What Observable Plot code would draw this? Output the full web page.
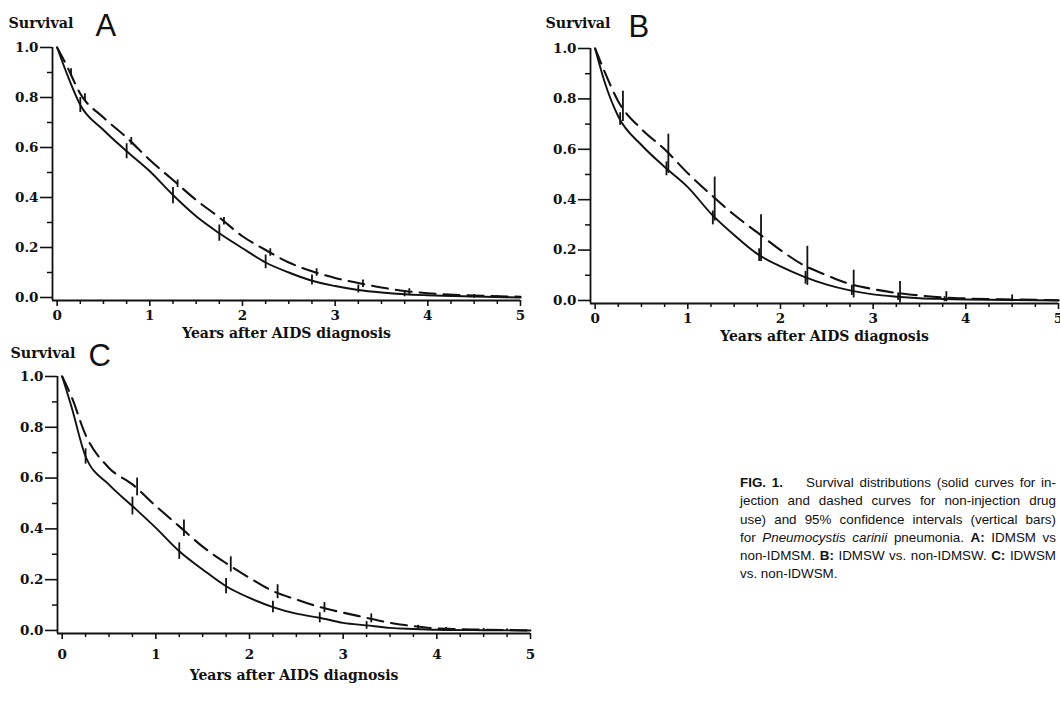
<!DOCTYPE html>
<html>
<head>
<meta charset="utf-8">
<script src="https://cdn.jsdelivr.net/npm/d3@7"></script>
<script src="https://cdn.jsdelivr.net/npm/@observablehq/plot@0.6"></script>
<style>
  html, body { margin: 0; padding: 0; background: #fff; }
  #wrap { position: relative; width: 1060px; height: 715px; overflow: hidden; background: #fff; }
  .panel { position: absolute; }
  #caption { position: absolute; left: 740px; top: 474px; width: 316px;
    font-family: "Liberation Sans", Arial, sans-serif; font-size: 13.4px; line-height: 18.3px; color: #111; }
  #caption div { text-align: justify; text-align-last: justify; white-space: nowrap; }
  #caption div.last { text-align-last: left; }
</style>
</head>
<body>
<div id="wrap">
  <div id="pA" class="panel" style="left:0px;top:0px"></div>
  <div id="pB" class="panel" style="left:530px;top:0px"></div>
  <div id="pC" class="panel" style="left:0px;top:330px"></div>
  <div id="caption">
    <div><b>FIG. 1.</b>&nbsp;&nbsp;&nbsp; Survival distributions (solid curves for in-</div>
    <div>jection and dashed curves for non-injection drug</div>
    <div>use) and 95% confidence intervals (vertical bars)</div>
    <div>for <i>Pneumocystis carinii</i> pneumonia. <b>A:</b> IDMSM vs</div>
    <div>non-IDMSM. <b>B:</b> IDMSW vs. non-IDMSW. <b>C:</b> IDWSM</div>
    <div class="last">vs. non-IDWSM.</div>
  </div>
</div>
<script>
// ---- shared time grid (years after AIDS diagnosis) ----
const times = [0, 0.1, 0.25, 0.5, 0.75, 1, 1.25, 1.5, 1.75, 2, 2.25, 2.5, 2.75, 3, 3.25, 3.5, 3.75, 4, 4.5, 5];

// ---- Panel A: IDMSM (solid) vs non-IDMSM (dashed) ----
const aSolid  = [1.0, 0.90, 0.77, 0.67, 0.585, 0.505, 0.41, 0.325, 0.257, 0.197, 0.14, 0.10, 0.067, 0.046, 0.03, 0.02, 0.013, 0.009, 0.004, 0.0];
const aDashed = [1.0, 0.93, 0.815, 0.72, 0.64, 0.55, 0.47, 0.39, 0.32, 0.245, 0.19, 0.14, 0.105, 0.078, 0.058, 0.04, 0.026, 0.017, 0.008, 0.003];
const aSolidBarT  = [0.25, 0.75, 1.25, 1.75, 2.25, 2.75, 3.25, 3.75, 4.5, 4.75];
const aSolidBarLo = [0.74, 0.555, 0.375, 0.225, 0.115, 0.05, 0.018, 0.003, -0.003, -0.004];
const aSolidBarHi = [0.80, 0.615, 0.44, 0.29, 0.17, 0.09, 0.05, 0.025, 0.012, 0.008];
const aDashBarT  = [0.15, 0.3, 0.8, 1.3, 1.8, 2.3, 2.8, 3.3, 3.8];
const aDashBarLo = [0.885, 0.785, 0.61, 0.44, 0.29, 0.165, 0.085, 0.04, 0.012];
const aDashBarHi = [0.915, 0.815, 0.64, 0.47, 0.32, 0.195, 0.115, 0.07, 0.035];

// ---- Panel B: IDMSW (solid) vs non-IDMSW (dashed) ----
const bSolid  = [1.0, 0.87, 0.73, 0.617, 0.53, 0.45, 0.345, 0.26, 0.185, 0.135, 0.095, 0.063, 0.04, 0.024, 0.015, 0.009, 0.006, 0.004, 0.002, 0.0];
const bDashed = [1.0, 0.91, 0.79, 0.68, 0.60, 0.505, 0.42, 0.34, 0.27, 0.20, 0.14, 0.10, 0.065, 0.045, 0.03, 0.02, 0.012, 0.008, 0.004, 0.001];
const bSolidBarT  = [0.27, 0.77, 1.27, 1.77, 2.27, 2.77, 3.27, 3.77];
const bSolidBarLo = [0.695, 0.495, 0.30, 0.155, 0.065, 0.02, 0.0, -0.005];
const bSolidBarHi = [0.745, 0.55, 0.355, 0.205, 0.115, 0.06, 0.03, 0.015];
const bDashBarT  = [0.3, 0.79, 1.29, 1.79, 2.29, 2.79, 3.29, 3.79, 4.5];
const bDashBarLo = [0.71, 0.505, 0.315, 0.155, 0.06, 0.01, -0.01, -0.005, -0.005];
const bDashBarHi = [0.83, 0.66, 0.49, 0.34, 0.215, 0.12, 0.075, 0.035, 0.022];

// ---- Panel C: IDWSM (solid) vs non-IDWSM (dashed) ----
const cSolid  = [1.0, 0.88, 0.685, 0.574, 0.49, 0.404, 0.312, 0.24, 0.174, 0.128, 0.092, 0.066, 0.05, 0.03, 0.02, 0.01, 0.006, 0.003, 0.001, 0.0];
const cDashed = [1.0, 0.92, 0.77, 0.64, 0.575, 0.49, 0.41, 0.33, 0.265, 0.207, 0.155, 0.122, 0.092, 0.07, 0.05, 0.03, 0.017, 0.008, 0.003, 0.0];
const cSolidBarT  = [0.25, 0.75, 1.25, 1.75, 2.25, 2.75, 3.25];
const cSolidBarLo = [0.655, 0.455, 0.28, 0.145, 0.07, 0.03, 0.005];
const cSolidBarHi = [0.715, 0.525, 0.345, 0.205, 0.115, 0.07, 0.035];
const cDashBarT  = [0.8, 1.3, 1.8, 2.3, 2.8, 3.3, 3.8, 4.1, 4.5, 4.75];
const cDashBarLo = [0.53, 0.37, 0.23, 0.125, 0.07, 0.03, 0.005, 0.0, -0.002, -0.003];
const cDashBarHi = [0.60, 0.435, 0.29, 0.18, 0.11, 0.065, 0.02, 0.012, 0.008, 0.006];

// ---- ticks and labels ----
const xMajor = [0, 1, 2, 3, 4, 5];
const xMinor = [0.25, 0.5, 0.75, 1.25, 1.5, 1.75, 2.25, 2.5, 2.75, 3.25, 3.5, 3.75, 4.25, 4.5, 4.75];
const yMajor = [0, 0.2, 0.4, 0.6, 0.8, 1.0];
const yMinor = [0.1, 0.3, 0.5, 0.7, 0.9];
const yLabel = "Survival";
const xLabel = "Years after AIDS diagnosis";

const serif = "'DejaVu Serif', serif";
const sans = "'Liberation Sans', Arial, sans-serif";

function curve(vals) { return times.map((t, i) => ({t, s: vals[i]})); }
function bars(T, lo, hi) { return T.map((t, i) => ({t, lo: lo[i], hi: hi[i]})); }

function panel(o) {
  const X0 = -0.05, Y0 = -0.012;
  return Plot.plot({
    width: o.W, height: o.H,
    marginLeft: o.axisX, marginRight: o.W - o.x5,
    marginTop: o.yTop, marginBottom: o.H - o.yBot,
    x: {domain: [X0, 5], axis: null},
    y: {domain: [Y0, 1], axis: null},
    style: {fontFamily: serif, fontSize: "13.5px", fontWeight: "bold", color: "#111", background: "transparent", overflow: "visible"},
    marks: [
      Plot.axisY({ticks: yMajor, tickSize: 12, tickPadding: 2, tickFormat: d3.format(".1f"), label: null, strokeWidth: 1.6}),
      Plot.axisY({ticks: yMinor, tickSize: 5, tickFormat: () => "", label: null, strokeWidth: 1.5}),
      Plot.axisX({ticks: xMajor, tickSize: 6, tickPadding: o.tickPad, tickFormat: d3.format("d"), label: null, strokeWidth: 1.6}),
      Plot.axisX({ticks: xMinor, tickSize: 4, tickFormat: () => "", label: null, strokeWidth: 1.5}),
      Plot.ruleX([X0], {y1: Y0, y2: 1, stroke: "#111", strokeWidth: 1.8}),
      Plot.ruleY([Y0], {x1: X0, x2: 5, stroke: "#111", strokeWidth: 1.8}),
      Plot.line(curve(o.solid), {x: "t", y: "s", curve: "monotone-x", stroke: "#111", strokeWidth: 1.9}),
      Plot.line(curve(o.dashed), {x: "t", y: "s", curve: "monotone-x", stroke: "#111", strokeWidth: 2.1, strokeDasharray: "16,8"}),
      Plot.ruleX(bars(...o.sBars), {x: "t", y1: "lo", y2: "hi", stroke: "#111", strokeWidth: 1.8}),
      Plot.ruleX(bars(...o.dBars), {x: "t", y1: "lo", y2: "hi", stroke: "#111", strokeWidth: 1.8}),
      Plot.text([yLabel], {frameAnchor: "top-left", dx: o.survDx, dy: o.survDy, textAnchor: "start", fontSize: 14.3, fontWeight: "bold", fontFamily: serif}),
      Plot.text([o.letter], {frameAnchor: "top-left", dx: o.letDx, dy: o.letDy, textAnchor: "start", fontSize: 31, fontWeight: "normal", fontFamily: sans}),
      Plot.text([xLabel], {frameAnchor: "bottom", dy: o.titleDy, fontSize: 14, fontWeight: "bold", fontFamily: serif})
    ]
  });
}

document.getElementById("pA").append(panel({
  W: 530, H: 345, axisX: 52, x5: 520, yTop: 47, yBot: 300, tickPad: 4,
  solid: aSolid, dashed: aDashed,
  sBars: [aSolidBarT, aSolidBarLo, aSolidBarHi], dBars: [aDashBarT, aDashBarLo, aDashBarHi],
  letter: "A", survDx: -44, survDy: -30, letDx: 43, letDy: -34, titleDy: 37
}));
document.getElementById("pB").append(panel({
  W: 530, H: 345, axisX: 60, x5: 528, yTop: 48, yBot: 303, tickPad: 4,
  solid: bSolid, dashed: bDashed,
  sBars: [bSolidBarT, bSolidBarLo, bSolidBarHi], dBars: [bDashBarT, bDashBarLo, bDashBarHi],
  letter: "B", survDx: -45, survDy: -31, letDx: 38, letDy: -34, titleDy: 37
}));
document.getElementById("pC").append(panel({
  W: 540, H: 385, axisX: 57, x5: 530, yTop: 46, yBot: 303, tickPad: 10,
  solid: cSolid, dashed: cDashed,
  sBars: [cSolidBarT, cSolidBarLo, cSolidBarHi], dBars: [cDashBarT, cDashBarLo, cDashBarHi],
  letter: "C", survDx: -47, survDy: -29, letDx: 31, letDy: -33, titleDy: 46
}));
</script>
</body>
</html>
